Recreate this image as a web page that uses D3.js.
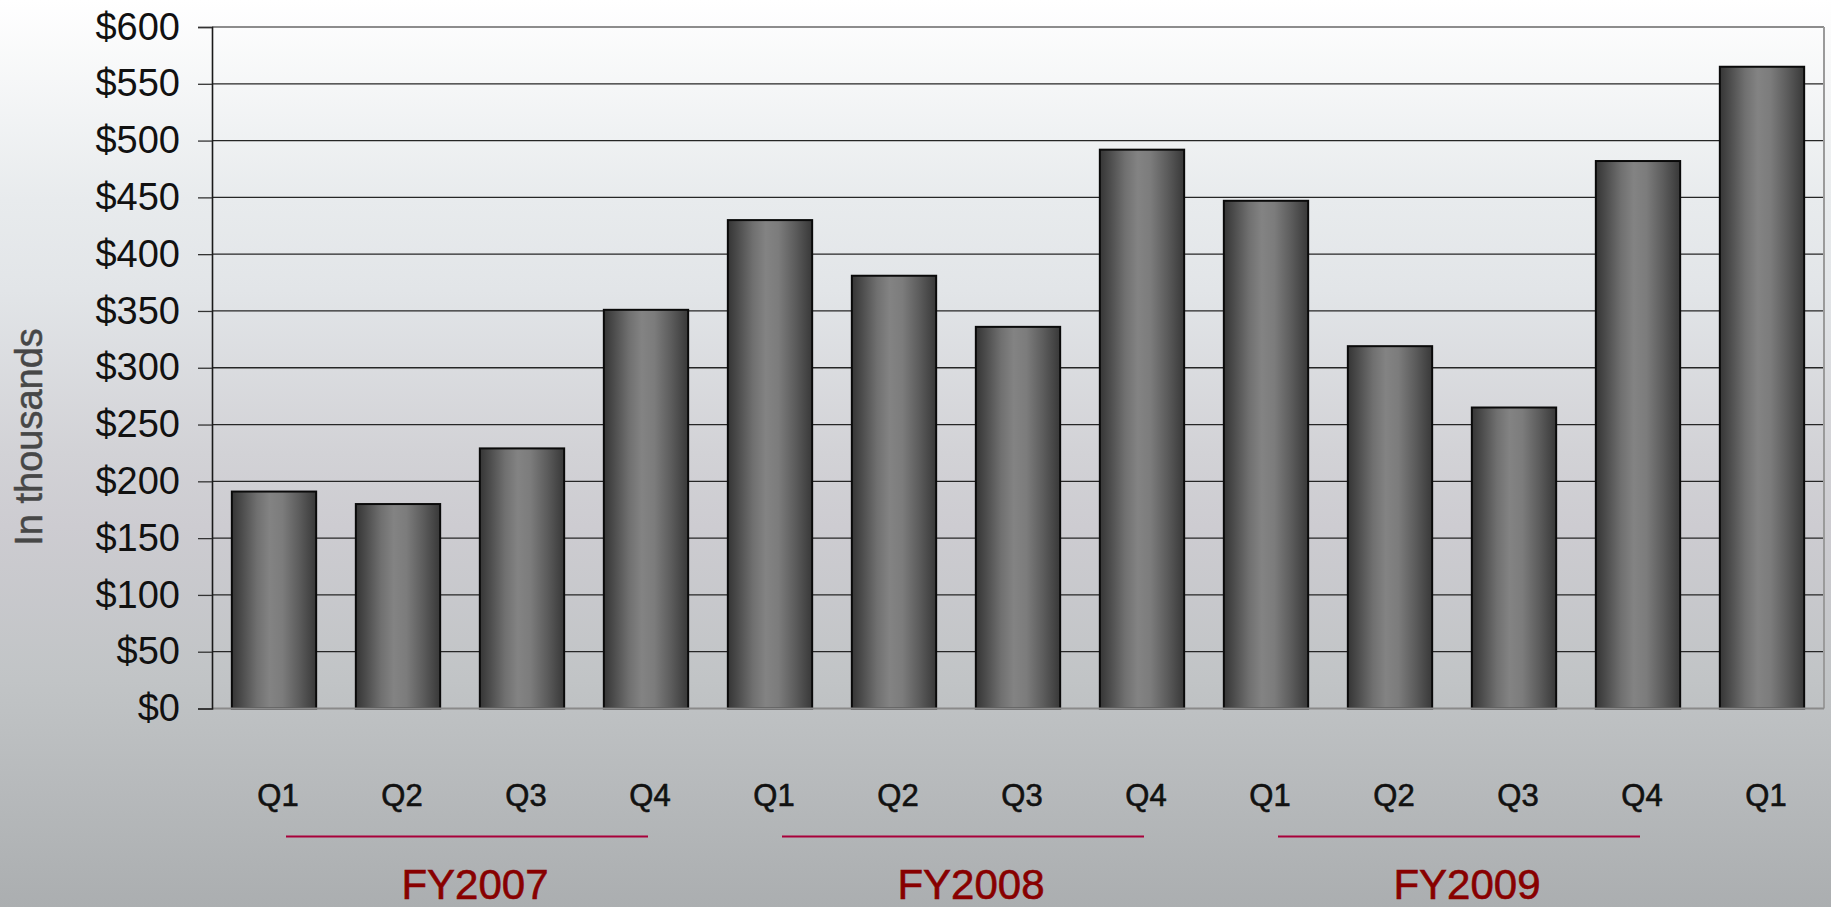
<!DOCTYPE html>
<html>
<head>
<meta charset="utf-8">
<script src="https://cdn.jsdelivr.net/npm/d3@7/dist/d3.min.js"></script>
<style>
  html, body { margin: 0; padding: 0; background: #fff; }
  svg { display: block; }
  text { font-family: Arial, "Liberation Sans", sans-serif; }
</style>
</head>
<body>
<svg id="chart" width="1831" height="907"></svg>
<script>
// ---- data ----
const quarters = ["Q1","Q2","Q3","Q4","Q1","Q2","Q3","Q4","Q1","Q2","Q3","Q4","Q1"];
const values   = [191, 180, 229, 351, 430, 381, 336, 492, 447, 319, 265, 482, 565];
const yTicks   = [0, 50, 100, 150, 200, 250, 300, 350, 400, 450, 500, 550, 600];
const fiscalYears = ["FY2007", "FY2008", "FY2009"];
const fyFirstIndex = [0, 4, 8];
const fyLastIndex  = [3, 7, 11];
const yTitle = "In thousands";

// ---- layout ----
const W = 1831, H = 907;
const margin = { top: 27, right: 7, bottom: 198.5, left: 212 };
const svg = d3.select("#chart");
const defs = svg.append("defs");

// background gradient
const bg = defs.append("linearGradient").attr("id", "bg")
  .attr("x1", 0).attr("y1", 0).attr("x2", 0).attr("y2", 1);
[[0, "#ffffff"], [0.22, "#e8ebed"], [0.32, "#e2e5e8"], [0.5, "#d2d2d6"], [0.58, "#cdccd1"],
 [0.75, "#c1c4c6"], [1, "#abaeb0"]].forEach(([o, c]) =>
  bg.append("stop").attr("offset", o).attr("stop-color", c));
svg.append("rect").attr("width", W).attr("height", H).attr("fill", "url(#bg)");

// bar gradient
const bar = defs.append("linearGradient").attr("id", "barGrad")
  .attr("x1", 0).attr("y1", 0).attr("x2", 1).attr("y2", 0);
[[0, "#353535"], [0.12, "#4c4c4c"], [0.3, "#707070"], [0.45, "#838383"], [0.6, "#7c7c7c"],
 [0.8, "#5c5c5c"], [1, "#383838"]].forEach(([o, c]) =>
  bar.append("stop").attr("offset", o).attr("stop-color", c));

const x = d3.scaleBand()
  .domain(d3.range(quarters.length))
  .range([margin.left, W - margin.right])
  .paddingInner(0.32).paddingOuter(0.16);
const y = d3.scaleLinear().domain([0, 600]).range([H - margin.bottom, margin.top]);

// grid lines
svg.append("g").selectAll("line").data(yTicks.filter(d => d > 0 && d < 600)).join("line")
  .attr("x1", margin.left).attr("x2", W - margin.right)
  .attr("y1", d => y(d)).attr("y2", d => y(d))
  .attr("stroke", "#262626").attr("stroke-width", 1.3);

// plot border top/right (gray)
svg.append("line").attr("x1", margin.left).attr("x2", W - margin.right)
  .attr("y1", y(600)).attr("y2", y(600)).attr("stroke", "#8c8c8c").attr("stroke-width", 2);
svg.append("line").attr("x1", W - margin.right).attr("x2", W - margin.right)
  .attr("y1", y(600)).attr("y2", y(0)).attr("stroke", "#9a9a9a").attr("stroke-width", 2);

// bars
svg.append("g").selectAll("rect").data(values).join("rect")
  .attr("x", (d, i) => x(i))
  .attr("width", x.bandwidth())
  .attr("y", d => y(d))
  .attr("height", d => y(0) - y(d))
  .attr("fill", "url(#barGrad)")
  .attr("stroke", "#0a0a0a").attr("stroke-width", 2);

// bottom axis line
svg.append("line").attr("x1", margin.left).attr("x2", W - margin.right)
  .attr("y1", y(0)).attr("y2", y(0)).attr("stroke", "#8a8a8a").attr("stroke-width", 2);

// y axis
const yAxis = svg.append("g").attr("transform", `translate(${margin.left},0)`)
  .call(d3.axisLeft(y).tickValues(yTicks).tickSize(14).tickPadding(18)
    .tickFormat(d => "$" + d));
yAxis.select(".domain").attr("stroke", "#1a1a1a").attr("stroke-width", 1.6);
yAxis.selectAll(".tick line").attr("stroke", "#333").attr("stroke-width", 1.3);
yAxis.selectAll(".tick text").attr("font-size", 38).attr("fill", "#111")
  .attr("font-family", "Arial, 'Liberation Sans', sans-serif");

// y title
svg.append("text")
  .attr("transform", `translate(42,${437}) rotate(-90)`)
  .attr("text-anchor", "middle")
  .attr("font-size", 38).attr("fill", "#474747")
  .attr("stroke", "#474747").attr("stroke-width", 0.5)
  .text(yTitle);

// quarter labels
svg.append("g").selectAll("text").data(quarters).join("text")
  .attr("x", (d, i) => x(i) + x.bandwidth() / 2 + 4)
  .attr("y", 806)
  .attr("text-anchor", "middle")
  .attr("font-size", 31).attr("fill", "#111")
  .attr("stroke", "#111").attr("stroke-width", 0.6)
  .text(d => d);

// fiscal year underline + labels
fiscalYears.forEach((fy, k) => {
  const x1 = x(fyFirstIndex[k]) + x.bandwidth() / 2 + 12;
  const x2 = x(fyLastIndex[k]) + x.bandwidth() / 2 + 2;
  svg.append("line").attr("x1", x1).attr("x2", x2)
    .attr("y1", 836.5).attr("y2", 836.5)
    .attr("stroke", "#a8003a").attr("stroke-width", 2.2);
  svg.append("text")
    .attr("x", (x1 + x2) / 2 + 8).attr("y", 899)
    .attr("text-anchor", "middle")
    .attr("font-size", 42).attr("fill", "#880000")
    .attr("stroke", "#880000").attr("stroke-width", 0.6)
    .text(fy);
});
</script>
</body>
</html>
